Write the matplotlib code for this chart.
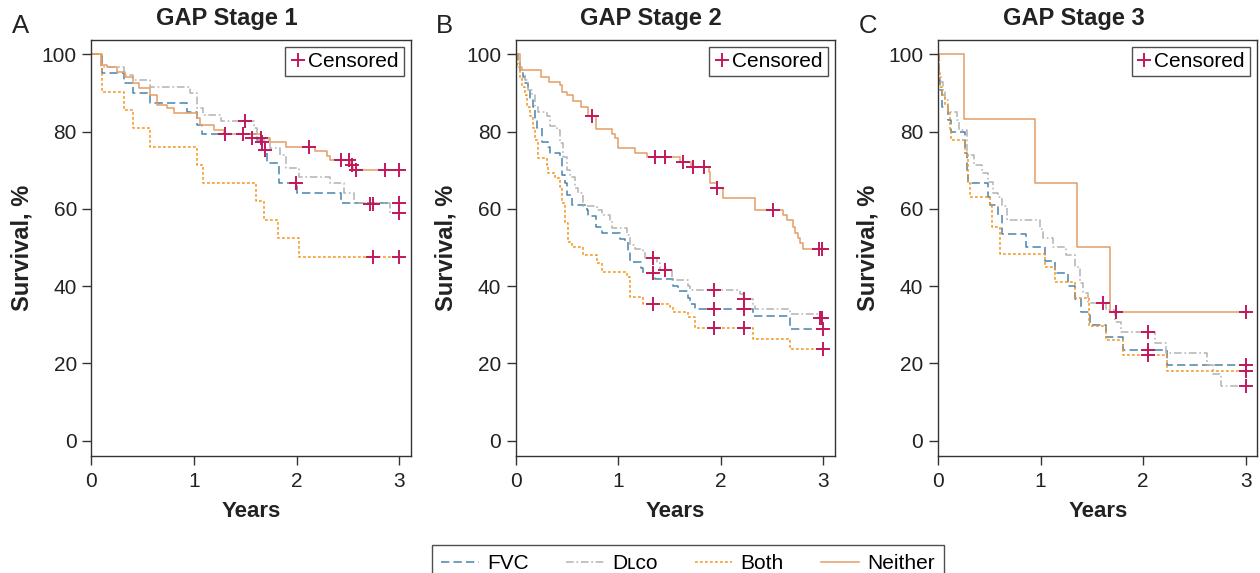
import numpy as np
import matplotlib
matplotlib.use("Agg")
import matplotlib.pyplot as plt
from matplotlib.lines import Line2D

plt.rcParams['font.family'] = ['Liberation Sans', 'DejaVu Sans']
plt.rcParams['lines.scale_dashes'] = False

# ---------------- data ----------------
panel_titles = ["GAP Stage 1", "GAP Stage 2", "GAP Stage 3"]
panel_letters = ["A", "B", "C"]
series_names = ["FVC", "Dʟᴄᴏ", "Both", "Neither"]
x_ticks = [0, 1, 2, 3]
y_ticks = [0, 20, 40, 60, 80, 100]

# Panel A (GAP stage 1)
a_fvc_t = [0, .10, .32, .40, .57, .93, 1.03, 1.08, 1.61, 1.66, 1.71, 1.83, 2.00, 2.43, 3.0]
a_fvc_s = [100, 95.1, 92.5, 89.9, 87.3, 85.1, 81.7, 79.4, 77.8, 75.2, 71.9, 66.8, 64.0, 61.4, 61.4]
a_dlco_t = [0, .09, .32, .40, .57, .96, 1.03, 1.09, 1.26, 1.58, 1.61, 1.74, 1.84, 1.90, 2.02, 2.33, 2.46, 2.56, 2.91, 3.0]
a_dlco_s = [100, 96.8, 94.6, 93.3, 91.6, 89.9, 86.0, 84.3, 82.7, 80.8, 77.8, 75.7, 73.9, 70.5, 68.3, 66.6, 64.2, 61.4, 58.8, 58.8]
a_both_t = [0, .10, .32, .40, .57, 1.03, 1.09, 1.60, 1.68, 1.82, 2.02, 3.0]
a_both_s = [100, 90.3, 85.6, 80.8, 76.1, 71.4, 66.6, 61.9, 57.1, 52.4, 47.6, 47.6]
a_neit_t = [0, .09, .15, .25, .33, .40, .46, .57, .64, .74, .80, 1.03, 1.06, 1.19, 1.29, 1.65, 1.74, 1.90, 2.18, 2.30, 2.33, 2.52, 2.55, 3.0]
a_neit_s = [100, 97.2, 96.8, 95.5, 94.2, 92.5, 91.2, 89.5, 86.9, 86.0, 84.7, 83.4, 81.7, 80.4, 79.4, 78.3, 77.4, 75.9, 75.0, 73.7, 72.5, 71.4, 70.1, 70.1]
a_cens_t = [1.30, 1.48, 1.50, 1.56, 1.65, 1.66, 1.69, 1.99, 2.12, 2.43, 2.51, 2.54, 2.58, 2.72, 2.74, 2.86, 3.0, 3.0, 3.0, 2.74, 3.0]
a_cens_s = [79.4, 79.4, 82.7, 78.3, 78.3, 77.4, 75.2, 66.8, 75.9, 72.5, 72.5, 71.4, 70.1, 61.2, 61.2, 70.1, 70.1, 61.4, 58.8, 47.6, 47.6]

# Panel B (GAP stage 2)
b_fvc_t = [0, .026, .042, .074, .09, .123, .139, .172, .188, .204, .253, .318, .334, .431, .448, .48, .497, .545, .691, .707,
           .782, .837, 1.015, 1.064, 1.097, 1.113, 1.226, 1.243, 1.356, 1.535, 1.584, 1.681, 1.697, 1.746, 2.314, 2.67, 3.0]
b_fvc_s = [100, 97.7, 95.5, 94.2, 92.5, 90.8, 88.2, 86.4, 83.0, 80.8, 77.4, 76.1, 74.4, 73.1, 68.8, 66.6, 63.6, 61.0, 59.7, 58.2,
           55.4, 53.8, 52.1, 51.5, 48.9, 46.3, 44.6, 43.3, 41.8, 40.0, 38.6, 36.9, 35.4, 34.0, 32.3, 28.9, 28.9]
b_dlco_t = [0, .026, .058, .09, .123, .155, .188, .22, .301, .334, .399, .431, .464, .497, .529, .578, .61, .659, .788, .837,
            .918, .934, 1.08, 1.113, 1.162, 1.243, 1.259, 1.373, 1.405, 1.519, 1.681, 1.697, 2.184, 2.217, 2.314, 2.33, 2.67, 2.947, 3.0]
b_dlco_s = [100, 96.8, 95.1, 93.3, 90.8, 89.5, 86.4, 85.1, 83.9, 81.3, 80.4, 77.0, 73.5, 70.1, 68.3, 65.3, 64.0, 60.8, 59.7, 58.4,
            57.1, 55.0, 53.2, 50.6, 49.5, 48.5, 47.2, 45.9, 44.2, 41.6, 40.0, 39.0, 37.9, 36.7, 35.1, 34.0, 32.8, 31.7, 31.7]
b_both_t = [0, .016, .042, .058, .09, .107, .139, .172, .188, .22, .301, .318, .383, .431, .448, .48, .513, .545, .659, .788,
            .837, 1.08, 1.113, 1.243, 1.503, 1.535, 1.681, 1.746, 2.314, 2.67, 3.0]
b_both_s = [100, 97.2, 93.8, 91.6, 89.5, 86.4, 83.9, 80.8, 77.8, 73.1, 71.4, 69.2, 67.9, 65.7, 61.4, 56.3, 51.5, 50.2, 48.1, 45.9,
            43.7, 42.4, 37.3, 35.4, 34.5, 33.2, 32.1, 29.1, 26.2, 23.7, 23.7]
b_neit_t = [0, .04, .25, .32, .43, .45, .50, .56, .64, .70, .78, .94, .97, 1.00, 1.16, 1.28, 1.60, 1.71, 1.88, 1.89, 1.96, 2.02,
            2.33, 2.61, 2.64, 2.70, 2.72, 2.75, 2.77, 2.80, 3.0]
b_neit_s = [100, 95.9, 94.2, 92.7, 92.1, 90.1, 89.5, 87.9, 86.4, 84.0, 80.6, 79.3, 78.3, 75.8, 74.5, 73.3, 72.2, 70.8, 69.4, 66.6,
            65.3, 62.7, 59.6, 58.4, 57.1, 55.4, 53.7, 52.4, 51.2, 49.5, 49.5]
b_cens_t = [0.74, 1.36, 1.46, 1.63, 1.73, 1.84, 1.96, 2.51, 2.96, 2.99,
            1.34, 1.93, 2.23, 3.0,
            1.34, 1.46, 1.93, 2.23, 2.97, 2.99,
            1.34, 1.93, 2.23, 3.0]
b_cens_s = [84.0, 73.3, 73.3, 72.2, 70.8, 70.8, 65.3, 59.6, 49.5, 49.5,
            43.3, 34.0, 34.0, 28.9,
            47.2, 44.2, 39.0, 36.7, 31.7, 31.7,
            35.4, 29.1, 29.1, 23.7]

# Panel C (GAP stage 3)
c_fvc_t = [0, .01, .019, .042, .10, .127, .263, .279, .295, .49, .506, .587, .62, .863, 1.042, 1.139, 1.269, 1.334, 1.399,
           1.48, 1.643, 1.805, 2.237, 3.0]
c_fvc_s = [100, 93.3, 90.8, 86.4, 83.0, 80.0, 74.4, 70.1, 66.8, 63.1, 61.0, 58.4, 53.4, 50.2, 46.5, 43.3, 40.0, 36.7, 33.2,
           29.9, 26.8, 23.5, 19.6, 19.6]
c_dlco_t = [0, .01, .029, .052, .068, .10, .185, .201, .282, .347, .425, .49, .539, .587, .62, .669, .993, 1.026, 1.123, 1.253,
            1.334, 1.383, 1.415, 1.464, 1.643, 1.724, 1.789, 2.113, 2.227, 2.626, 2.681, 2.762, 3.0]
c_dlco_s = [100, 94.2, 92.9, 90.8, 88.2, 85.1, 83.0, 80.4, 73.9, 71.4, 69.2, 67.0, 64.0, 63.1, 60.6, 57.1, 54.7, 52.4, 50.2, 48.1,
            45.0, 40.7, 38.3, 35.7, 33.8, 30.6, 28.1, 25.2, 22.6, 19.6, 17.3, 14.2, 14.2]
c_both_t = [0, .01, .019, .036, .068, .10, .117, .127, .263, .295, .312, .506, .523, .604, 1.042, 1.139, 1.334, 1.47, 1.643,
            1.805, 2.237, 3.0]
c_both_s = [100, 95.1, 91.6, 89.5, 86.9, 85.1, 80.4, 77.8, 74.4, 66.6, 63.1, 60.6, 55.4, 48.3, 45.0, 41.1, 36.9, 29.7, 26.1,
            22.2, 17.9, 17.9]
c_neit_t = [0, .256, .944, 1.36, 1.675, 3.0]
c_neit_s = [100, 83.3, 66.7, 50.0, 33.3, 33.3]
c_cens_t = [1.74, 3.0, 2.05, 3.0, 1.61, 2.05, 3.0, 2.05, 3.0]
c_cens_s = [33.3, 33.3, 23.5, 19.6, 35.7, 28.1, 14.2, 22.2, 17.9]

# ---------------- style ----------------
col_fvc = '#4a84ad'
col_dlco = '#b3b3b3'
col_both = '#f7941d'
col_neit = '#e69e64'
col_cens = '#c2185b'
styles = [
    dict(color=col_fvc, linestyle=(0, (6, 3)), lw=1.1),
    dict(color=col_dlco, linestyle=(0, (5.5, 2, 1.2, 2)), lw=1.1),
    dict(color=col_both, linestyle=(0, (2, 1.6)), lw=1.1),
    dict(color=col_neit, linestyle='-', lw=1.1),
]
FS = 15
spine_col = '#333333'
txt_col = '#222222'

panels = [
    ([a_fvc_t, a_dlco_t, a_both_t, a_neit_t], [a_fvc_s, a_dlco_s, a_both_s, a_neit_s], a_cens_t, a_cens_s),
    ([b_fvc_t, b_dlco_t, b_both_t, b_neit_t], [b_fvc_s, b_dlco_s, b_both_s, b_neit_s], b_cens_t, b_cens_s),
    ([c_fvc_t, c_dlco_t, c_both_t, c_neit_t], [c_fvc_s, c_dlco_s, c_both_s, c_neit_s], c_cens_t, c_cens_s),
]

fig = plt.figure(figsize=(12.6, 5.73), dpi=100)
lefts = [0.0726, 0.4093, 0.7444]
W, H, B = 0.2536, 0.7263, 0.2047

for i, (ts, ss, ct, cs) in enumerate(panels):
    ax = fig.add_axes([lefts[i], B, W, H])
    for k in [3, 1, 0, 2]:
        ax.step(ts[k], ss[k], where='post', **styles[k], zorder=2 + k * 0.1)
    ax.plot(ct, cs, linestyle='none', marker='+', ms=10, mew=1.4, color=col_cens, zorder=5)
    ax.set_xlim(0, 3.115)
    ax.set_ylim(-3.9, 103.8)
    ax.set_xticks(x_ticks)
    ax.set_yticks(y_ticks)
    ax.tick_params(direction='out', length=6.5, width=1.0, color=spine_col, labelsize=FS, labelcolor=txt_col)
    ax.tick_params(axis='x', pad=5)
    ax.tick_params(axis='y', pad=4)
    for sp in ax.spines.values():
        sp.set_color(spine_col)
        sp.set_linewidth(1.0)
    ax.text(0.5, -0.135, 'Years', transform=ax.transAxes, ha='center', va='center',
            fontsize=16, fontweight='bold', color=txt_col)
    ax.text(-0.2175, 0.5, 'Survival, %', transform=ax.transAxes, ha='center', va='center',
            rotation=90, fontsize=17, fontweight='bold', color=txt_col)
    ax.text(0.424, 1.0517, panel_titles[i], transform=ax.transAxes, ha='center', va='center',
            fontsize=17, fontweight='bold', color=txt_col)
    ax.text(-0.249, 1.033, panel_letters[i], transform=ax.transAxes, ha='left', va='center',
            fontsize=18.5, color=txt_col)
    h = Line2D([], [], linestyle='none', marker='+', ms=10, mew=1.4, color=col_cens)
    leg = ax.legend([h], ['Censored'], loc='upper right', fontsize=FS, frameon=True, fancybox=False,
                    edgecolor=txt_col, handlelength=0.7, handletextpad=0.15, borderpad=0.25,
                    borderaxespad=0.35)
    leg.get_frame().set_linewidth(1.0)

handles = [Line2D([], [], **styles[k]) for k in range(4)]
fleg = fig.legend(handles, series_names, loc='upper center', bbox_to_anchor=(0.546, 1 - 545 / 573),
                  ncol=4, fontsize=FS, frameon=True, fancybox=False, edgecolor=txt_col,
                  handlelength=1.8, handletextpad=0.4, columnspacing=1.8, borderpad=0.45,
                  borderaxespad=0.0)
fleg.get_frame().set_linewidth(1.0)

fig.savefig('out.png', dpi=100)
